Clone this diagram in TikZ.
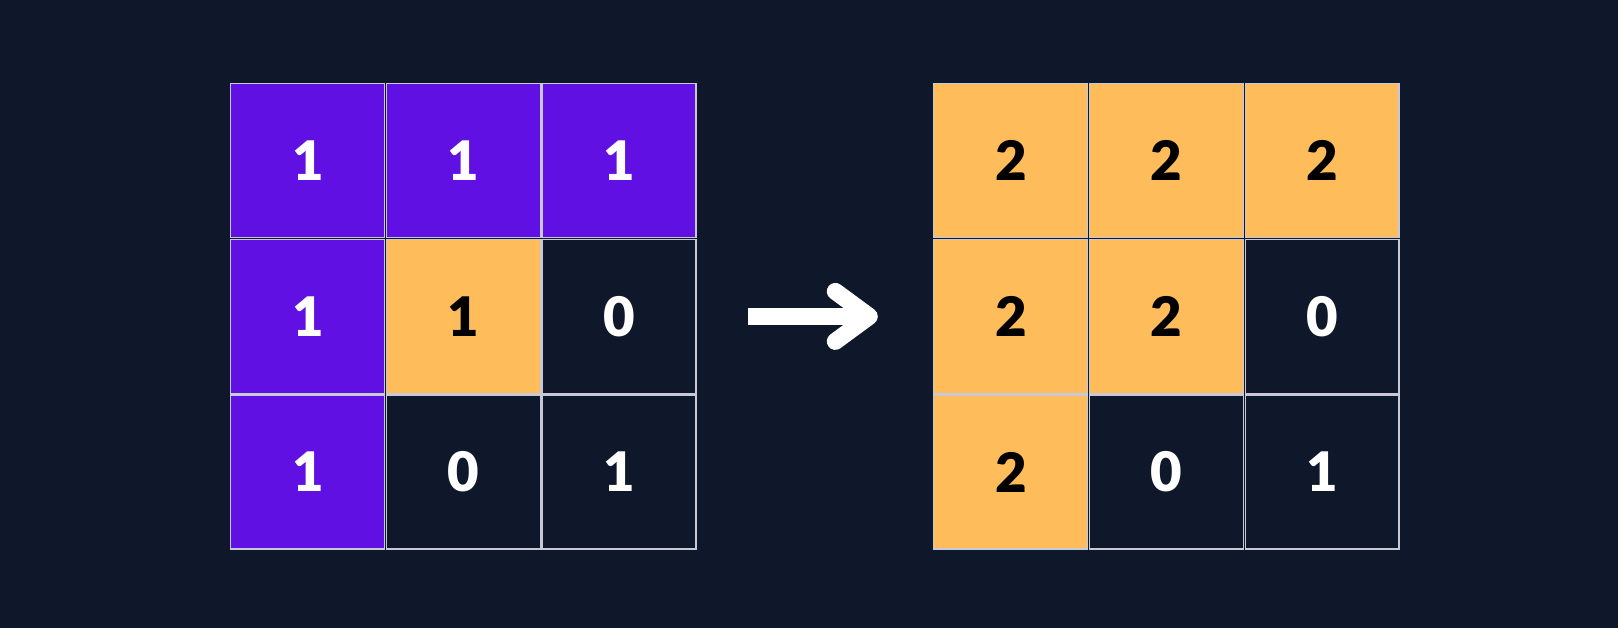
\documentclass[tikz,border=0pt]{standalone}
\usepackage{fontspec}
\setmainfont{Lato}[BoldFont={Lato Black}]
\usepackage{tikz}

\definecolor{bg}{RGB}{15,23,42}
\definecolor{violet}{RGB}{96,16,226}
\definecolor{amber}{RGB}{255,188,90}
\definecolor{gridline}{RGB}{200,200,215}

\tikzset{
  cell/.style={draw=gridline, line width=0.6pt, minimum size=3.08cm, inner sep=0pt,
    font=\fontsize{31}{31}\selectfont\bfseries},
  violetcell/.style={cell, fill=violet, text=white},
  ambercell/.style={cell, fill=amber, text=black},
  darkcell/.style={cell, fill=bg, text=white}
}

\begin{document}
\begin{tikzpicture}[x=0.02cm, y=0.02cm]
      % Background
      \fill[bg] (0,0) rectangle (1618,628);
      \useasboundingbox (0,0) rectangle (1618,628);
      % Left grid
      \node[violetcell] (l11) at (307.8,467.2) {1};
      \node[violetcell] (l12) at (463.4,467.2) {1};
      \node[violetcell] (l13) at (619,467.2) {1};
      \node[violetcell] (l21) at (307.8,311.6) {1};
      \node[ambercell] (l22) at (463.4,311.6) {1};
      \node[darkcell] (l23) at (619,311.6) {0};
      \node[violetcell] (l31) at (307.8,156) {1};
      \node[darkcell] (l32) at (463.4,156) {0};
      \node[darkcell] (l33) at (619,156) {1};
      % Right grid
      \node[ambercell] (r11) at (1010.8,467.2) {2};
      \node[ambercell] (r12) at (1166.4,467.2) {2};
      \node[ambercell] (r13) at (1322,467.2) {2};
      \node[ambercell] (r21) at (1010.8,311.6) {2};
      \node[ambercell] (r22) at (1166.4,311.6) {2};
      \node[darkcell] (r23) at (1322,311.6) {0};
      \node[ambercell] (r31) at (1010.8,156) {2};
      \node[darkcell] (r32) at (1166.4,156) {0};
      \node[darkcell] (r33) at (1322,156) {1};
      % Arrow between the two
      \coordinate (arrowtail) at ([xshift=1.02cm]l23.east);
      \coordinate (arrowtip) at ([xshift=-1.28cm]r21.west);
      \draw[white, line width=0.34cm] (arrowtail) -- (arrowtip);
      \draw[white, line width=0.34cm, line cap=round, line join=round]
        (arrowtip) ++(-34,25) -- (arrowtip) -- ++(-34,-25);
    \end{tikzpicture}
\end{document}
